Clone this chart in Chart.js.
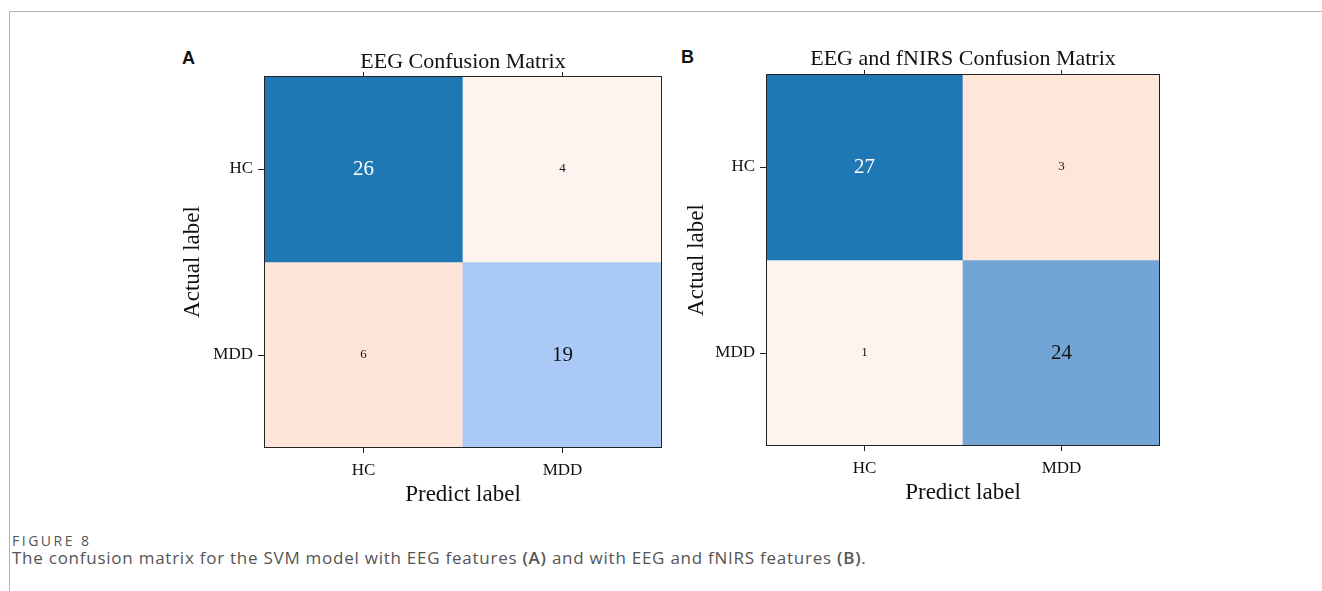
<!DOCTYPE html>
<html>
<head>
<meta charset="utf-8">
<script src="https://cdn.jsdelivr.net/npm/chart.js@4.4.1/dist/chart.umd.min.js"></script>
<style>
  body { margin:0; background:#fff; width:1322px; height:591px; overflow:hidden; position:relative; }
  .frame-top { position:absolute; left:9px; top:11px; width:1313px; height:0; border-top:1px solid #b3b3b3; }
  .frame-left { position:absolute; left:9px; top:11px; width:0; height:580px; border-left:1px solid #b3b3b3; }
  .panel-letter { position:absolute; font-family:"Liberation Sans", Arial, sans-serif; font-weight:bold; font-size:18px; color:#111; }
  canvas { position:absolute; }
  .fig-no { position:absolute; left:12px; top:531px; font-family:"Open Sans", sans-serif; font-size:14px; letter-spacing:2.5px; color:#555; }
  .caption { position:absolute; left:12px; top:546px; font-family:"Open Sans", sans-serif; font-size:17px; letter-spacing:0.75px; color:#555; white-space:nowrap; }
  .caption b { font-weight:600; }
</style>
</head>
<body>
<div class="frame-top"></div>
<div class="frame-left"></div>
<div class="panel-letter" style="left:182px;top:48px;">A</div>
<div class="panel-letter" style="left:681px;top:47px;">B</div>
<canvas id="cmA" width="510" height="500" style="left:160px;top:20px;"></canvas>
<canvas id="cmB" width="510" height="500" style="left:660px;top:20px;"></canvas>
<div class="fig-no">FIGURE 8</div>
<div class="caption">The confusion matrix for the SVM model with EEG features <b>(A)</b> and with EEG and fNIRS features <b>(B)</b>.</div>

<script>
// class labels
var predLabels = ["HC", "MDD"];
var actualLabels = ["HC", "MDD"];

// counts, rows = actual, cols = predicted
var countsA = [[26, 4], [6, 19]];
var countsB = [[27, 3], [1, 24]];

var titleA = "EEG Confusion Matrix";
var titleB = "EEG and fNIRS Confusion Matrix";

// cell colours (as in the figure)
var cellColorsA = [["#1f77b4", "#fef4ef"], ["#fde5da", "#aac9f7"]];
var cellColorsB = [["#1f77b4", "#fde6da"], ["#fef4ef", "#72a5d6"]];

var serif = "'Liberation Serif', 'Times New Roman', serif";

// writes the numbers in the cells and the black box round the plot
var cellText = {
  id: "cellText",
  afterDatasetsDraw: function(chart, args, opts) {
    var ctx = chart.ctx;
    var xs = chart.scales.x, ys = chart.scales.y;
    var m = opts.counts;
    var big = Math.max.apply(null, m.map(function(r){ return Math.max.apply(null, r); }));
    ctx.save();
    ctx.textAlign = "center";
    ctx.textBaseline = "middle";
    for (var r = 0; r < m.length; r++) {
      for (var c = 0; c < m[r].length; c++) {
        var v = m[r][c];
        ctx.font = (v >= 10 ? "21px " : "13px ") + serif;
        ctx.fillStyle = v === big ? "#ffffff" : "#111111";
        ctx.fillText(String(v), xs.getPixelForValue(c), ys.getPixelForValue(r + 0.5));
      }
    }
    var a = chart.chartArea;
    ctx.strokeStyle = "#222";
    ctx.lineWidth = 1;
    ctx.strokeRect(Math.round(a.left) + 0.5, Math.round(a.top) + 0.5, Math.round(a.right - a.left) - 1, Math.round(a.bottom - a.top) - 1);
    ctx.restore();
  }
};

function makeMatrix(id, counts, colors, title, sz) {
  var datasets = actualLabels.map(function(lab, r) {
    return {
      label: lab,
      data: predLabels.map(function() { return [r, r + 1]; }),
      backgroundColor: colors[r],
      borderWidth: 0,
      grouped: false,
      barPercentage: 1,
      categoryPercentage: 1
    };
  });

  return new Chart(document.getElementById(id), {
    type: "bar",
    data: { labels: predLabels, datasets: datasets },
    plugins: [cellText],
    options: {
      responsive: false,
      animation: false,
      layout: { padding: { left: 0, top: 0, right: sz.right, bottom: 0 } },
      plugins: {
        legend: { display: false },
        tooltip: { enabled: false },
        cellText: { counts: counts }
      },
      scales: {
        x: {
          type: "category",
          position: "bottom",
          offset: true,
          grid: { offset: false, drawOnChartArea: false, drawTicks: true, tickLength: 5, color: "#222" },
          border: { display: false },
          ticks: { color: "#111", font: { family: serif, size: 17 }, padding: 7 },
          title: { display: true, text: "Predict label", color: "#111", font: { family: serif, size: 23 }, padding: { top: 0, bottom: sz.xTitlePad } },
          afterFit: function(s) { s.height = sz.xH; }
        },
        x2: {
          type: "category",
          position: "top",
          offset: true,
          grid: { offset: false, drawOnChartArea: false, drawTicks: true, tickLength: 4, color: "#222" },
          border: { display: false },
          ticks: { display: true, padding: 0, callback: function() { return ""; } },
          title: { display: true, text: title, color: "#111", font: { family: serif, size: 22 }, padding: { top: sz.topTitlePad, bottom: 0 } },
          afterFit: function(s) { s.height = sz.topH; }
        },
        y: {
          type: "linear",
          min: 0,
          max: 2,
          reverse: true,
          afterBuildTicks: function(s) {
            s.ticks = actualLabels.map(function(l, i) { return { value: i + 0.5 }; });
          },
          grid: { drawOnChartArea: false, drawTicks: true, tickLength: 6, color: "#222" },
          border: { display: false },
          ticks: {
            color: "#111",
            font: { family: serif, size: 17 },
            padding: 5,
            callback: function(v) { return actualLabels[Math.floor(v)]; }
          },
          title: { display: true, text: "Actual label", color: "#111", font: { family: serif, size: 23 }, padding: { top: sz.yTitlePad, bottom: 0 } },
          afterFit: function(s) { s.width = sz.yW; }
        }
      }
    }
  });
}

makeMatrix("cmA", countsA, cellColorsA, titleA, { yW: 104, topH: 56, xH: 72, right: 8, topTitlePad: 28.8, xTitlePad: 11.2, yTitlePad: 19.2 });
makeMatrix("cmB", countsB, cellColorsB, titleB, { yW: 106, topH: 54, xH: 74, right: 10, topTitlePad: 25.8, xTitlePad: 13.2, yTitlePad: 23.2 });
</script>
</body>
</html>
